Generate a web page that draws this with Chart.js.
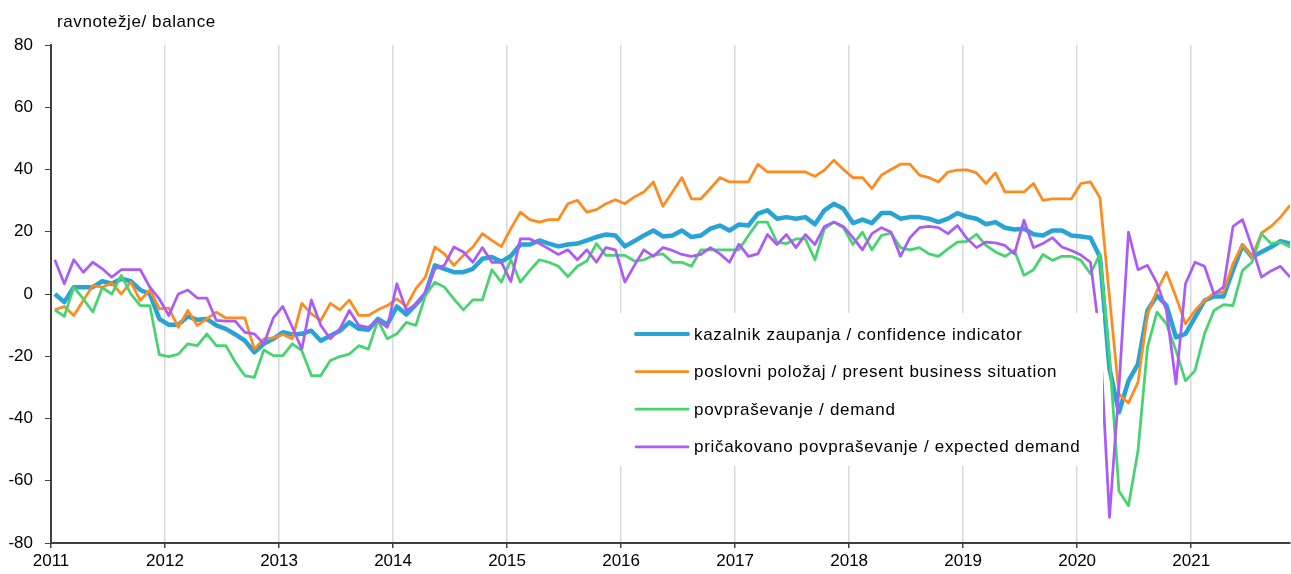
<!DOCTYPE html>
<html>
<head>
<meta charset="utf-8">
<script src="https://cdn.jsdelivr.net/npm/chart.js@4.4.0/dist/chart.umd.min.js"></script>
<style>
  html, body { margin: 0; padding: 0; background: #fff; }
  #wrap { width: 1291px; height: 574px; }
</style>
</head>
<body>
<div id="wrap"><canvas id="chart"></canvas></div>
<script>
// podatki: mesečno, jan 2011 - nov 2021
const years = ['2011', '2012', '2013', '2014', '2015', '2016', '2017', '2018', '2019', '2020', '2021'];
const yTicks = [-80, -60, -40, -20, 0, 20, 40, 60, 80];
const seriesNames = [
    'kazalnik zaupanja / confidence indicator',
    'poslovni položaj / present business situation',
    'povpraševanje / demand',
    'pričakovano povpraševanje / expected demand'
];

const confidence = [
    0, -2.6, 2.2, 2.2, 2.2, 4.1, 3.3, 4.9, 4.1, 1.3, 0, -8.0,
    -9.9, -9.9, -7.2, -8.3, -8.0, -10.1, -11.2, -13.0, -15.0, -18.7, -16.0, -14.4,
    -12.3, -13.0, -12.8, -11.8, -15.0, -13.4, -11.8, -9.1, -11.2, -11.5, -8.0, -9.8,
    -4.0, -6.6, -3.4, 0, 9.2, 8.1, 7.0, 7.0, 8.1, 11.3, 11.9, 10.4,
    12.2, 15.9, 15.9, 17.2, 16.2, 15.3, 15.9, 16.2, 17.2, 18.3, 19.1, 18.8,
    15.3, 17.0, 18.8, 20.4, 18.5, 18.8, 20.4, 18.3, 18.8, 21.0, 22.0, 20.4,
    22.3, 22.0, 25.8, 26.9, 24.2, 24.7, 24.2, 24.7, 22.4, 26.9, 29.0, 27.4,
    22.8, 23.9, 22.8, 26.0, 26.0, 24.2, 24.7, 24.7, 24.2, 23.1, 24.2, 26.0,
    24.8, 24.2, 22.4, 23.1, 21.3, 20.7, 21.0, 19.2, 18.8, 20.4, 20.4, 18.8,
    18.5, 18.1, 11.9, -24.0, -38.0, -27.9, -22.5, -5.3, -0.5, -3.7, -13.9, -12.8,
    -7.5, -2.1, -0.8, -0.8, 7.6, 15.6, 11.9, 13.5, 15.1, 17.0, 16.2
];

const business = [
    -5.1, -4.0, -6.9, -2.1, 2.7, 2.2, 3.5, 0, 3.8, -2.1, 1.3, -4.8,
    -4.5, -10.7, -5.3, -10.1, -8.0, -5.8, -7.7, -7.7, -7.7, -17.7, -14.4, -14.1,
    -13.0, -14.4, -3.0, -6.4, -8.5, -3.0, -5.1, -1.9, -6.9, -6.9, -5.1, -3.7,
    -1.6, -4.0, 1.7, 5.4, 15.1, 12.9, 9.2, 12.4, 15.1, 19.4, 17.2, 15.2,
    21.0, 26.3, 23.9, 23.1, 23.9, 23.9, 29.0, 30.1, 26.3, 27.1, 29.0, 30.3,
    29.0, 31.2, 32.8, 36.0, 28.2, 32.8, 37.4, 30.6, 30.6, 33.9, 37.4, 36.0,
    36.0, 36.0, 41.7, 39.2, 39.2, 39.2, 39.2, 39.2, 37.8, 39.8, 43.0, 40.0,
    37.4, 37.4, 33.9, 38.2, 40.0, 41.7, 41.7, 38.2, 37.4, 36.0, 39.2, 39.8,
    39.9, 38.9, 35.5, 38.9, 32.8, 32.8, 32.8, 35.5, 30.1, 30.6, 30.6, 30.6,
    35.5, 36.0, 30.9, -1.0, -32.2, -35.0, -28.4, -6.4, 1.1, 7.0, -1.0, -9.6,
    -5.3, -2.1, 0.3, 0.6, 9.7, 15.9, 11.9, 19.6, 21.7, 24.7, 28.5
];

const demand = [
    -5.1, -7.2, 2.2, -1.6, -5.8, 2.0, 0, 6.0, 0, -3.7, -3.7, -19.5,
    -20.1, -19.3, -16.0, -16.6, -12.8, -16.6, -16.6, -21.9, -26.2, -26.8, -18.0, -19.8,
    -19.8, -16.0, -18.2, -26.2, -26.2, -21.4, -20.1, -19.3, -16.6, -17.7, -8.5, -14.4,
    -12.8, -9.1, -10.1, -0.5, 3.8, 2.2, -1.6, -5.1, -1.9, -1.9, 7.8, 3.8,
    11.0, 3.8, 7.6, 11.0, 10.2, 8.9, 5.6, 8.9, 10.6, 16.2, 12.4, 12.4,
    12.4, 10.6, 11.0, 12.4, 12.9, 10.2, 10.2, 8.9, 14.2, 14.2, 14.2, 14.2,
    14.2, 18.8, 23.1, 23.1, 16.7, 16.2, 17.7, 17.7, 11.0, 21.0, 23.1, 21.3,
    15.9, 19.9, 14.2, 18.8, 19.6, 14.9, 14.2, 14.9, 12.9, 12.1, 14.5, 16.7,
    16.9, 19.2, 15.6, 13.5, 12.1, 14.0, 6.0, 7.8, 12.7, 10.8, 12.1, 12.1,
    10.8, 6.5, 12.9, -20.0, -63.3, -68.0, -50.4, -17.1, -5.8, -9.6, -18.2, -27.9,
    -24.6, -12.8, -5.3, -3.4, -3.7, 7.6, 10.2, 19.4, 16.2, 16.7, 15.1
];

const expected = [
    11.0, 3.3, 11.0, 7.0, 10.2, 8.1, 5.4, 7.8, 7.8, 7.8, 2.2, -1.6,
    -6.9, 0, 1.3, -1.3, -1.3, -8.5, -8.7, -8.7, -12.3, -12.8, -16.0, -7.7,
    -4.0, -10.7, -17.7, -1.9, -10.1, -14.4, -11.2, -5.3, -10.1, -10.7, -8.5, -10.7,
    3.3, -5.3, -3.4, 0.6, 8.1, 9.2, 15.1, 13.5, 10.2, 14.9, 10.2, 10.2,
    4.0, 17.7, 17.7, 16.2, 14.5, 12.7, 14.2, 11.0, 14.2, 10.2, 14.9, 14.2,
    3.8, 9.2, 14.2, 12.1, 14.9, 14.0, 12.7, 12.1, 12.7, 14.9, 12.9, 10.2,
    16.0, 12.1, 12.9, 19.1, 15.9, 19.1, 14.9, 19.1, 15.9, 21.7, 23.1, 21.7,
    18.1, 14.2, 19.4, 21.3, 19.9, 12.1, 18.1, 21.3, 21.7, 21.3, 19.4, 22.0,
    17.8, 14.9, 16.7, 16.4, 15.6, 12.9, 23.7, 14.9, 16.2, 18.1, 15.1, 14.0,
    12.5, 10.2, -14.0, -71.8, -30.0, 19.9, 7.8, 9.2, 3.5, -5.3, -28.9, 3.3,
    10.2, 8.9, 0, 2.2, 21.7, 23.9, 15.1, 5.4, 7.4, 8.9, 5.4
];

const colors = ['#28a3d6', '#ff8a1e', '#47d46f', '#ab5cf6'];
const widths = [4.5, 2.75, 2.75, 2.75];
const FONT = "'Liberation Sans', Arial, sans-serif";
const MONTH_SHIFT = 0.4; // točke so malo desno od letne črte

function toPoints(values) {
    return values.map((v, i) => ({ x: i + MONTH_SHIFT, y: v }));
}

// naslov osi in legenda v beli škatli čez graf
const overlay = {
    id: 'overlay',
    afterDatasetsDraw(chart) {
        const ctx = chart.ctx;
        ctx.save();
        ctx.fillStyle = '#000';
        ctx.font = '17px ' + FONT;
        ctx.textAlign = 'left';
        ctx.textBaseline = 'alphabetic';
        ctx.letterSpacing = '0.6px';
        ctx.fillText('ravnotežje/ balance', 57, 27);

        ctx.fillStyle = '#fff';
        ctx.fillRect(618, 313, 485, 153);
        ctx.letterSpacing = '0.7px';
        seriesNames.forEach((name, k) => {
            const y = 334 + k * 37.6;
            ctx.strokeStyle = colors[k];
            ctx.lineWidth = k === 0 ? 4 : 2.75;
            ctx.lineCap = 'round';
            ctx.beginPath();
            ctx.moveTo(636, y);
            ctx.lineTo(688, y);
            ctx.stroke();
            ctx.fillStyle = '#000';
            ctx.textBaseline = 'middle';
            ctx.fillText(name, 694, y + 1);
        });
        ctx.restore();
    }
};

const datasets = [confidence, business, demand, expected].map((values, k) => ({
    label: seriesNames[k],
    data: toPoints(values),
    borderColor: colors[k],
    backgroundColor: colors[k],
    borderWidth: widths[k],
    pointRadius: 0,
    tension: 0,
    borderJoinStyle: 'round',
    order: 3 - k
}));

const ctx = document.getElementById('chart').getContext('2d');
const chart = new Chart(ctx, {
    type: 'line',
    data: { datasets: datasets },
    plugins: [overlay],
    options: {
        responsive: true,
        maintainAspectRatio: false,
        animation: false,
        layout: { padding: { top: 45, right: 1, left: 0, bottom: 0 } },
        plugins: {
            legend: { display: false },
            tooltip: { enabled: false }
        },
        scales: {
            x: {
                type: 'linear',
                min: 0,
                max: confidence.length - 1 + MONTH_SHIFT,
                afterBuildTicks: s => { s.ticks = years.map((_, k) => ({ value: k * 12 })); },
                afterFit: s => { s.height = 31; },
                ticks: {
                    callback: (v, k) => years[k],
                    font: { family: FONT, size: 17 },
                    color: '#000',
                    padding: 3,
                    maxRotation: 0,
                    autoSkip: false
                },
                grid: { color: '#d9d9d9', lineWidth: 1.5, tickColor: '#404040', tickLength: 5 },
                border: { color: '#404040', width: 2 }
            },
            y: {
                min: -80,
                max: 80,
                afterBuildTicks: s => { s.ticks = yTicks.map(v => ({ value: v })); },
                afterFit: s => { s.width = 51; },
                ticks: {
                    font: { family: FONT, size: 17 },
                    color: '#000',
                    padding: 12
                },
                grid: { drawOnChartArea: false, tickColor: '#404040', tickLength: 6 },
                border: { color: '#404040', width: 2 }
            }
        }
    }
});
</script>
</body>
</html>
